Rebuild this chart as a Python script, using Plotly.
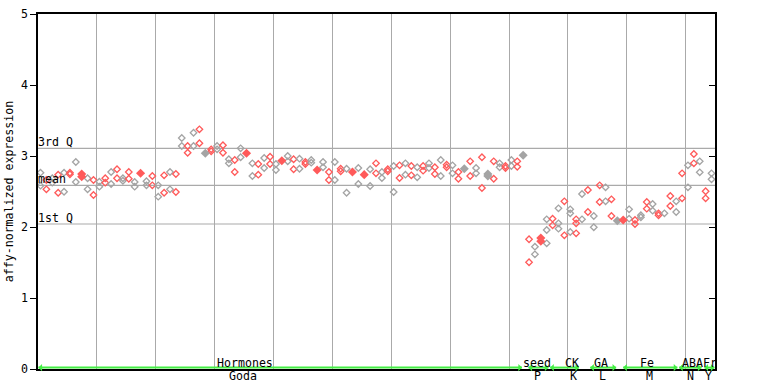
import plotly.graph_objects as go

# ---------------- data ----------------
# expression values per sample position (1-3 replicates per position)
sample_values = [
    [2.765, 2.582], [2.662, 2.531], [2.686, 2.624], [2.737, 2.483], [2.765, 2.497],
    [2.765, 2.742], [2.915, 2.634], [2.746, 2.708], [2.686, 2.531], [2.662, 2.451],
    [2.638, 2.568], [2.686, 2.624], [2.775, 2.606], [2.813, 2.686], [2.686, 2.652],
    [2.775, 2.680], [2.634, 2.568], [2.756], [2.644, 2.587], [2.718, 2.587],
    [2.587, 2.427], [2.728, 2.483], [2.775, 2.531], [2.746, 2.493], [3.254, 3.141],
    [3.141, 3.046], [3.328, 3.141], [3.376, 3.179], [3.038], [3.094, 3.066],
    [3.141, 3.094], [3.151, 3.046], [2.954, 2.897], [2.944, 2.775], [3.108, 2.982],
    [3.038], [2.897, 2.718], [2.887, 2.737], [2.972, 2.831], [2.990, 2.887],
    [2.887, 2.803], [2.934], [3.000, 2.925], [2.954, 2.813], [2.962, 2.821],
    [2.915, 2.887], [2.944, 2.906], [2.803], [2.915, 2.841], [2.775, 2.662],
    [2.915, 2.662], [2.821, 2.785], [2.821, 2.483], [2.775], [2.831, 2.606],
    [2.737], [2.813, 2.577], [2.897, 2.756], [2.775, 2.690], [2.813, 2.785],
    [2.859, 2.493], [2.869, 2.690], [2.897, 2.737], [2.859, 2.728], [2.841, 2.700],
    [2.859, 2.793], [2.897, 2.831], [2.841, 2.746], [2.944, 2.718], [2.877, 2.841],
    [2.869, 2.756], [2.775, 2.680], [2.821], [2.925, 2.718], [2.831, 2.756],
    [2.982, 2.549], [2.746, 2.718], [2.925, 2.680], [2.897, 2.841], [2.859, 2.831],
    [2.944, 2.859], [2.925, 2.849], [3.010],
    [1.827, 1.503], [1.723, 1.615], [1.845, 1.799], [2.108, 1.958, 1.770],
    [2.117, 2.024], [2.263, 2.052, 1.976], [2.362, 1.883], [2.249, 2.193, 1.930],
    [2.108, 2.052, 1.911], [2.465, 2.108], [2.521, 2.211], [2.155, 1.996],
    [2.587, 2.352], [2.559, 2.362], [2.390, 2.155], [2.089], [2.099],
    [2.249, 2.117], [2.099, 2.042], [2.165, 2.137], [2.352, 2.258], [2.324, 2.230],
    [2.193, 2.165], [2.193], [2.437, 2.296], [2.362, 2.211], [2.756, 2.404],
    [2.869, 2.559], [3.028, 2.897], [2.925, 2.770], [2.503, 2.404], [2.756, 2.672],
]
filled_positions = [7, 17, 28, 35, 41, 47, 53, 55, 72, 76, 82, 85, 98, 99]

quartile_labels = ["3rd Q", "mean", "1st Q"]
quartile_values = [3.108, 2.587, 2.042]

y_ticks = [0, 1, 2, 3, 4, 5]

# experiment groups: (upper label, lower label, start pos, end pos)
group_upper = ["Hormones", "seed", "CK", "GA", "Fe", "ABA", "Fr"]
group_lower = ["Goda", "P", "K", "L", "M", "N", "Y"]
group_start = [-0.35, 82.9, 86.6, 93.4, 99.0, 108.5, 112.8]
group_end = [81.8, 86.3, 91.5, 97.8, 108.2, 112.3, 114.5]
upper_center = [34.8, 84.3, 90.3, 95.2, 103.1, 110.8, 113.7]
lower_center = [34.4, 84.5, 90.6, 95.5, 103.4, 110.4, 113.5]

# ---------------- figure ----------------
FONT = "DejaVu Sans Mono"
FS = 11.6
RED = "#ff5a5a"
GREY = "#a4a4a4"
GRID = "#aaaaaa"

xs_open, ys_open, cs_open = [], [], []
xs_fill, ys_fill, cs_fill = [], [], []
for i, vals in enumerate(sample_values):
    col = GREY if i % 2 == 0 else RED
    for v in vals:
        if i in filled_positions:
            xs_fill.append(i); ys_fill.append(v); cs_fill.append(col)
        else:
            xs_open.append(i); ys_open.append(v); cs_open.append(col)

fig = go.Figure()
fig.add_trace(go.Scatter(
    x=xs_open, y=ys_open, mode="markers",
    marker=dict(symbol="diamond-open", size=5, color=cs_open, line=dict(width=1.3)),
    hoverinfo="y", showlegend=False))
fig.add_trace(go.Scatter(
    x=xs_fill, y=ys_fill, mode="markers",
    marker=dict(symbol="diamond", size=7, color=cs_fill, line=dict(width=0)),
    hoverinfo="y", showlegend=False))
# carrier trace for the right-hand inner tick axis
fig.add_trace(go.Scatter(x=[0], y=[0], yaxis="y2", mode="markers",
                         marker=dict(opacity=0), hoverinfo="skip", showlegend=False))

n = len(sample_values)
ppu = 5.895  # pixels per sample step
x_lo = -2.5 / ppu
x_hi = (n - 1) + 3.5 / ppu

shapes = []
annotations = []
for lab, v in zip(quartile_labels, quartile_values):
    shapes.append(dict(type="line", xref="paper", yref="y", x0=0, x1=1, y0=v, y1=v,
                       line=dict(color=GRID, width=1.2), layer="below"))
    annotations.append(dict(x=0, xref="paper", y=v, yref="y", text=lab, showarrow=False,
                            xanchor="left", yanchor="bottom", xshift=-2, yshift=-3,
                            font=dict(family=FONT, size=FS, color="black")))

GREEN = "#44ee44"
for up, lo, s, e, cu, cl in zip(group_upper, group_lower, group_start, group_end,
                                 upper_center, lower_center):
    shapes.append(dict(type="line", xref="x", yref="paper", x0=s, x1=e, y0=0.004, y1=0.004,
                       line=dict(color=GREEN, width=2)))
    for tip, tail in ((e, e - 1.0), (s, s + 1.0)):
        annotations.append(dict(x=tip, y=0.004, xref="x", yref="paper", ax=tail, ay=0,
                                axref="x", ayref="pixel", text="", showarrow=True,
                                arrowhead=1, arrowsize=1, arrowwidth=1.2, arrowcolor=GREEN))
    annotations.append(dict(x=cu, xref="x", y=0, yref="paper", text=up, showarrow=False,
                            yanchor="bottom", yshift=-2, borderpad=0,
                            font=dict(family=FONT, size=FS, color="black")))
    annotations.append(dict(x=cl, xref="x", y=0, yref="paper", text=lo, showarrow=False,
                            yanchor="top", yshift=1, borderpad=0,
                            font=dict(family=FONT, size=FS, color="black")))

fig.update_layout(
    width=768, height=384,
    margin=dict(l=38, r=53, t=14, b=15, pad=0),
    paper_bgcolor="white", plot_bgcolor="white",
    showlegend=False,
    shapes=shapes, annotations=annotations,
    xaxis=dict(range=[x_lo, x_hi], showticklabels=False, ticks="", automargin=False,
               showgrid=True, gridcolor=GRID, gridwidth=1.2,
               tick0=(96.3 - 40) / ppu, dtick=59 / ppu,
               zeroline=False, showline=True, linecolor="black", linewidth=1.5, mirror=True),
    yaxis=dict(range=[0, 5], tickvals=y_ticks, ticks="outside", ticklen=6, automargin=False,
               tickcolor="black", tickwidth=1, showgrid=False, zeroline=False,
               showline=True, linecolor="black", linewidth=1.5, mirror=True,
               tickfont=dict(family=FONT, size=FS, color="black"),
               title=dict(text="affy-normalized expression", standoff=5,
                          font=dict(family=FONT, size=FS, color="black"))),
    yaxis2=dict(range=[0, 5], overlaying="y", side="right", tickvals=y_ticks,
                ticks="inside", ticklen=6, tickcolor="black", showticklabels=False,
                automargin=False, showgrid=False, zeroline=False, showline=False),
)

fig.write_html("out.html")
